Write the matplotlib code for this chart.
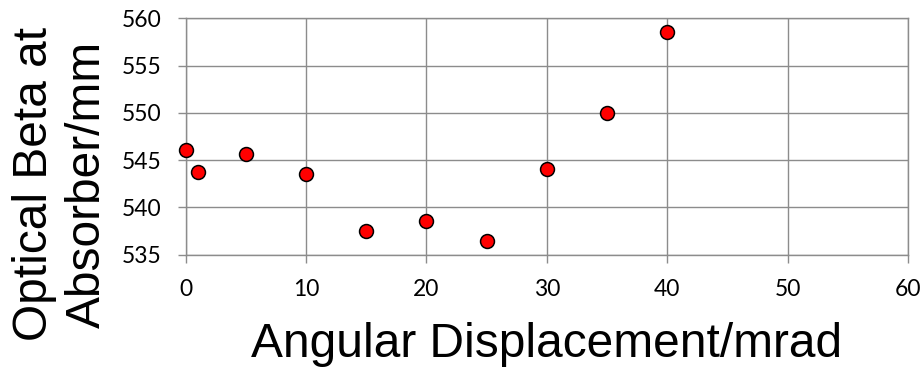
import matplotlib
matplotlib.use("Agg")
import matplotlib.pyplot as plt

# Optical beta at the absorber versus angular displacement
displacement_mrad = [0, 1, 5, 10, 15, 20, 25, 30, 35, 40]
beta_mm = [546.1, 543.7, 545.6, 543.5, 537.5, 538.6, 536.45, 544.1, 550.0, 558.5]

x_ticks = [0, 10, 20, 30, 40, 50, 60]
y_ticks = [535, 540, 545, 550, 555, 560]

grid_grey = "#8c8c8c"

fig = plt.figure(figsize=(9.22, 3.69), dpi=100)
ax = fig.add_axes([185.7 / 922, 1 - 254.7 / 369, (908 - 185.7) / 922, (254.7 - 18.3) / 369])

ax.scatter(displacement_mrad, beta_mm, s=10.0 ** 2, color="#ff0000",
           edgecolors="black", linewidths=1.1, zorder=3, clip_on=False)

ax.set_xlim(0, 60)
ax.set_ylim(535, 560)
ax.set_xticks(x_ticks)
ax.set_yticks(y_ticks)
ax.grid(True, color=grid_grey, linewidth=1.0)
ax.set_axisbelow(True)
for sp in ax.spines.values():
    sp.set_color(grid_grey)
    sp.set_linewidth(1.0)

ax.tick_params(axis="both", direction="out", length=5.8, width=1.0, color=grid_grey,
               labelsize=16.5)
ax.tick_params(axis="x", pad=12)
ax.tick_params(axis="y", pad=11.5)
for lab in ax.get_xticklabels() + ax.get_yticklabels():
    lab.set_fontfamily("Lato")

fig.text(546.5 / 922, 1 - 356.7 / 369, "Angular Displacement/mrad",
         ha="center", va="baseline", fontsize=34.5, family="Liberation Sans")
fig.text(61 / 922, 1 - 184 / 369, "Optical Beta at\nAbsorber/mm",
         ha="center", va="center", rotation=90, fontsize=34.5,
         family="Liberation Sans", linespacing=1.25, multialignment="center")

fig.savefig("out.png", dpi=100)
